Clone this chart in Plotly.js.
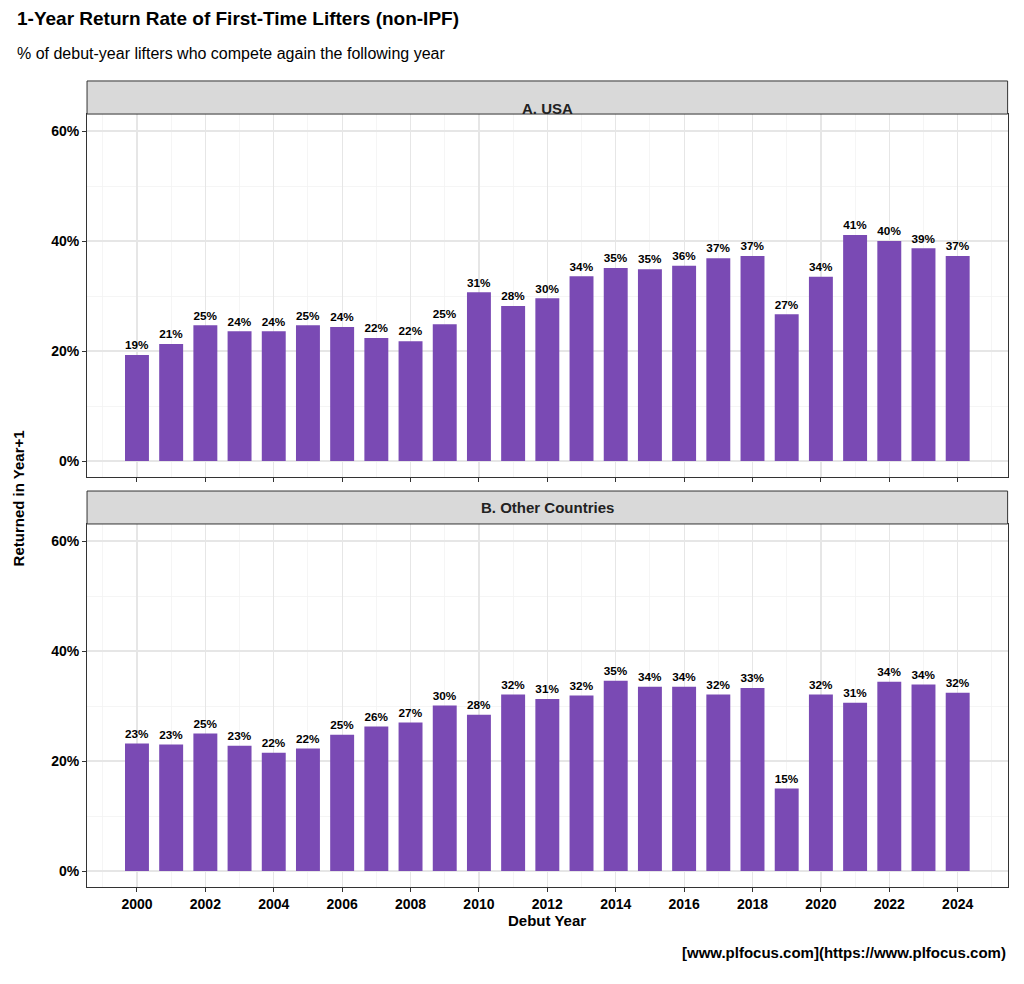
<!DOCTYPE html>
<html><head><meta charset="utf-8">
<script src="https://cdn.plot.ly/plotly-3.0.1.min.js"></script>
<style>body{margin:0}#chart{width:1024px;height:984px}</style>
</head><body><div id="chart"></div>
<script>
// debut years and % returning next year
const years = [2000,2001,2002,2003,2004,2005,2006,2007,2008,2009,2010,2011,2012,2013,2014,2015,2016,2017,2018,2019,2020,2021,2022,2023,2024];
const usa_rate = [19.3,21.3,24.7,23.6,23.6,24.7,24.4,22.4,21.8,24.9,30.7,28.2,29.6,33.6,35.1,34.9,35.5,36.9,37.3,26.7,33.5,41.1,40.0,38.7,37.3];
const other_rate = [23.2,23.0,25.0,22.8,21.5,22.3,24.8,26.3,27.0,30.1,28.4,32.1,31.3,31.9,34.6,33.5,33.5,32.1,33.3,15.0,32.1,30.6,34.4,33.9,32.4];

const font = "Liberation Sans, Arial, sans-serif";
const purple = "#7a4ab4";

const bar_trace = (vals, xa, ya) => ({
    type: 'bar', x: years, y: vals, xaxis: xa, yaxis: ya,
    width: 0.7, marker: {color: purple},
    text: vals.map(v => Math.round(v) + '%'),
    textposition: 'outside', cliponaxis: false,
    textfont: {family: font, size: 13, color: '#000', weight: 'bold'},
    hoverinfo: 'skip'
});

const axis_x = (anchor, labels) => ({
    anchor: anchor, domain: [0.085, 0.984], range: [1998.54, 2025.46],
    tickmode: 'linear', tick0: 2000, dtick: 2, showticklabels: labels,
    ticks: 'outside', ticklen: 4, tickcolor: '#333',
    tickfont: {family: font, size: 14, color: '#000', weight: 'bold'},
    showgrid: true, gridcolor: '#e6e6e6', gridwidth: 1.2,
    minor: {dtick: 1, showgrid: true, gridcolor: '#f2f2f2', gridwidth: 0.8},
    showline: true, mirror: true, linecolor: '#333', linewidth: 1, zeroline: false
});
const axis_y = (anchor, domain) => ({
    anchor: anchor, domain: domain, range: [-2.9, 63.1],
    tickvals: [0,20,40,60], ticktext: ['0%','20%','40%','60%'],
    ticks: 'outside', ticklen: 4, tickcolor: '#333',
    tickfont: {family: font, size: 14, color: '#000', weight: 'bold'},
    showgrid: true, gridcolor: '#e6e6e6', gridwidth: 1.2,
    minor: {tickvals: [10,30,50], showgrid: true, gridcolor: '#f2f2f2', gridwidth: 0.8},
    showline: true, mirror: true, linecolor: '#333', linewidth: 1, zeroline: false
});

const strip = (y0, y1) => ({type: 'rect', xref: 'paper', yref: 'paper', x0: 0.085, x1: 0.984,
    y0: y0, y1: y1, fillcolor: '#d9d9d9', line: {color: '#333', width: 1}});

const ann = (text, x, y, opts) => Object.assign({text: text, x: x, y: y, xref: 'paper', yref: 'paper',
    showarrow: false, font: {family: font, size: 14, color: '#000'}}, opts);

const layout = {
    width: 1024, height: 984, margin: {l: 0, r: 0, t: 0, b: 0},
    paper_bgcolor: '#fff', plot_bgcolor: '#fff', showlegend: false,
    xaxis: axis_x('y', false), yaxis: axis_y('x', [0.5152, 0.8841]),
    xaxis2: axis_x('y2', true), yaxis2: axis_y('x2', [0.0986, 0.4675]),
    shapes: [strip(0.8841, 0.9177), strip(0.4675, 0.5010)],
    annotations: [
        ann('A. USA', 0.5345, 0.9009, {font: {family: font, size: 15, color: '#222', weight: 'bold'}}),
        ann('B. Other Countries', 0.5345, 0.4843, {font: {family: font, size: 15, color: '#222', weight: 'bold'}}),
        ann('1-Year Return Rate of First-Time Lifters (non-IPF)', 0.0146, 0.9807, {xanchor: 'left', yanchor: 'middle',
            font: {family: font, size: 19, color: '#000', weight: 'bold'}}),
        ann('% of debut-year lifters who compete again the following year', 0.0146, 0.9461, {xanchor: 'left', yanchor: 'middle',
            font: {family: font, size: 16, color: '#000'}}),
        ann('Returned in Year+1', 0.018, 0.4939, {textangle: -90, xanchor: 'center',
            font: {family: font, size: 15, color: '#000', weight: 'bold'}}),
        ann('Debut Year', 0.5345, 0.0539, {font: {family: font, size: 15, color: '#000', weight: 'bold'}}),
        ann('[www.plfocus.com](https://www.plfocus.com)', 0.984, 0.0213, {xanchor: 'right',
            font: {family: font, size: 15, color: '#000', weight: 'bold'}})
    ]
};

Plotly.newPlot('chart', [bar_trace(usa_rate, 'x', 'y'), bar_trace(other_rate, 'x2', 'y2')], layout, {staticPlot: true});
</script></body></html>
